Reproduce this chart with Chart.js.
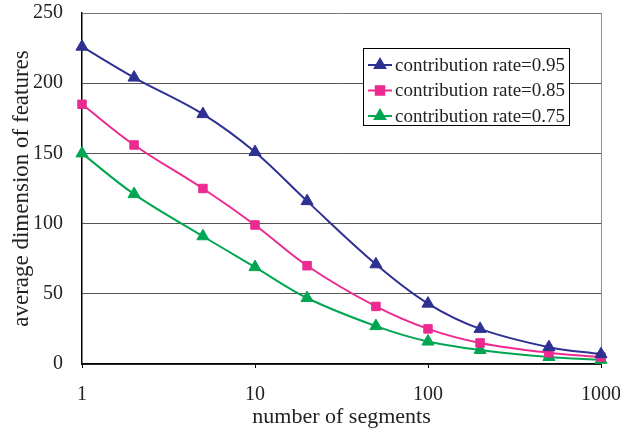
<!DOCTYPE html>
<html>
<head>
<meta charset="utf-8">
<script src="https://cdn.jsdelivr.net/npm/chart.js@4"></script>
<style>
    html, body { margin: 0; padding: 0; background: #fff; }
    #wrap { width: 620px; height: 431px; }
</style>
</head>
<body>
<div id="wrap"><canvas id="segChart"></canvas></div>
<script>
// number of segments (x, log scale)
const segments = [1, 2, 5, 10, 20, 50, 100, 200, 500, 1000];
const xTicks = [1, 10, 100, 1000];

// average dimension of features for each contribution rate
const rate095 = [226, 204, 178, 151, 116, 71, 43, 25, 12, 7];
const rate085 = [185, 156, 125, 99, 70, 41, 25, 15, 8, 5];
const rate075 = [150, 121, 91, 69, 47, 27, 16, 10, 5, 3];

const seriesNames = ['contribution rate=0.95', 'contribution rate=0.85', 'contribution rate=0.75'];

const SERIF = '"Liberation Serif", "Times New Roman", serif';

function toPoints(values) {
    return segments.map((s, i) => ({ x: s, y: values[i] }));
}

function makeSet(label, values, color, style) {
    return {
        label: label,
        data: toPoints(values),
        borderColor: color,
        backgroundColor: color,
        borderWidth: 2,
        pointStyle: style,
        pointRadius: style === 'rect' ? 6 : 7,
        pointBorderWidth: 1,
        tension: 0.35,
        clip: false,
        fill: false
    };
}

// legend box drawn inside the plot, plus the grey right frame
const frameAndLegend = {
    id: 'frameAndLegend',
    beforeDatasetsDraw(chart) {
        const { ctx, chartArea: a } = chart;
        ctx.save();
        ctx.strokeStyle = '#8a9099';
        ctx.lineWidth = 1;
        ctx.beginPath();
        ctx.moveTo(a.right + 0.5, a.top);
        ctx.lineTo(a.right + 0.5, a.bottom);
        ctx.stroke();
        ctx.restore();
    },
    afterDraw(chart) {
        const { ctx } = chart;
        const x = 363, y = 48, w = 206, h = 77;
        ctx.save();
        ctx.fillStyle = '#fff';
        ctx.fillRect(x, y, w, h);
        ctx.strokeStyle = '#000';
        ctx.lineWidth = 1;
        ctx.strokeRect(x + 0.5, y + 0.5, w, h);
        ctx.font = '19px ' + SERIF;
        ctx.textBaseline = 'middle';
        chart.data.datasets.forEach((ds, i) => {
            const cy = y + 17 + i * 25.5;
            ctx.strokeStyle = ds.borderColor;
            ctx.lineWidth = 2;
            ctx.beginPath();
            ctx.moveTo(x + 5, cy);
            ctx.lineTo(x + 29, cy);
            ctx.stroke();
            ctx.fillStyle = ds.backgroundColor;
            Chart.helpers.drawPoint(ctx, {
                pointStyle: ds.pointStyle, radius: 6, rotation: 0, borderWidth: 1
            }, x + 17, cy);
            ctx.fillStyle = '#222';
            ctx.fillText(ds.label, x + 32, cy + 1);
        });
        ctx.restore();
    }
};

const ctx = document.getElementById('segChart').getContext('2d');
new Chart(ctx, {
    type: 'line',
    data: {
        datasets: [
            makeSet(seriesNames[0], rate095, '#2e3192', 'triangle'),
            makeSet(seriesNames[1], rate085, '#ec2a90', 'rect'),
            makeSet(seriesNames[2], rate075, '#00a651', 'triangle')
        ]
    },
    options: {
        responsive: true,
        maintainAspectRatio: false,
        animation: false,
        layout: { padding: { left: 0, top: 13, right: 19, bottom: 0 } },
        plugins: {
            legend: { display: false },
            tooltip: { enabled: false }
        },
        scales: {
            x: {
                type: 'logarithmic',
                min: 1,
                max: 1000,
                afterBuildTicks: scale => {
                    scale.ticks = xTicks.map(v => ({ value: v }));
                },
                afterFit: scale => {
                    scale.height = 67;
                    scale.paddingLeft = 0;
                    scale.paddingRight = 0;
                },
                ticks: {
                    color: '#222',
                    font: { family: SERIF, size: 20 },
                    padding: 15,
                    maxRotation: 0,
                    callback: v => String(v)
                },
                grid: {
                    drawOnChartArea: false,
                    drawTicks: true,
                    tickLength: 4,
                    color: '#000'
                },
                border: { color: '#000', width: 1.5 },
                title: {
                    display: true,
                    text: 'number of segments',
                    color: '#222',
                    font: { family: SERIF, size: 22 },
                    padding: { top: 0, bottom: 1 }
                }
            },
            y: {
                min: 0,
                max: 250,
                afterFit: scale => {
                    scale.width = 82;
                    scale.paddingTop = 0;
                    scale.paddingBottom = 0;
                },
                ticks: {
                    stepSize: 50,
                    color: '#222',
                    font: { family: SERIF, size: 20 },
                    padding: 19
                },
                grid: {
                    drawTicks: false,
                    color: ctx => ctx.tick.value === 250 ? '#777' : '#555',
                    lineWidth: 1
                },
                border: { color: '#000', width: 1.5 },
                title: {
                    display: true,
                    text: 'average dimension of features',
                    color: '#222',
                    font: { family: SERIF, size: 23 },
                    padding: { top: 8, bottom: 0 }
                }
            }
        }
    },
    plugins: [frameAndLegend]
});
</script>
</body>
</html>
